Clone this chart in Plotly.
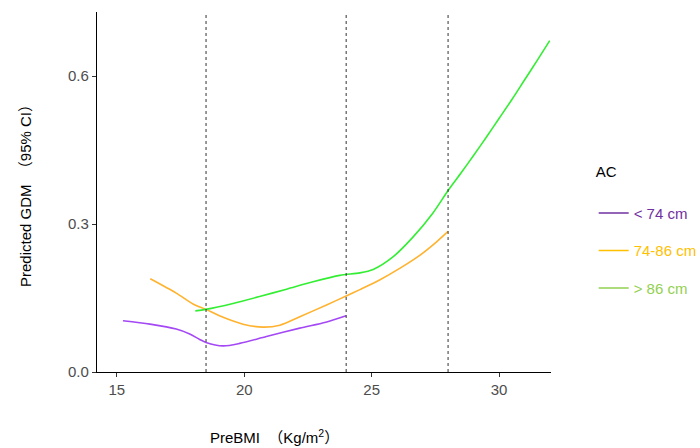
import plotly.graph_objects as go

# ---- data ----
bmi_lt74 = [15.24, 16.3, 17.33, 17.86, 18.25, 18.5, 19.17, 19.82, 20.87, 22.18, 23.2, 24.0]
gdm_lt74 = [0.104, 0.097, 0.087, 0.077, 0.066, 0.060, 0.053, 0.058, 0.072, 0.089, 0.101, 0.114]

bmi_74_86 = [16.31, 17.33, 17.99, 18.49, 19.17, 19.95, 20.74, 21.4, 22.18, 23.23, 24.0, 24.54,
             25.33, 26.1, 26.9, 27.55, 28.0]
gdm_74_86 = [0.189, 0.160, 0.138, 0.127, 0.111, 0.097, 0.091, 0.095, 0.112, 0.136, 0.154, 0.167,
             0.187, 0.210, 0.237, 0.264, 0.285]

bmi_gt86 = [18.08, 18.49, 19.56, 20.6, 21.66, 22.7, 23.75, 24.54, 25.06, 25.85, 26.63, 27.4,
            28.0, 28.5, 29.0, 29.5, 30.0, 30.5, 31.0, 31.5, 31.99]
gdm_gt86 = [0.124, 0.127, 0.139, 0.153, 0.168, 0.183, 0.196, 0.201, 0.208, 0.234, 0.274, 0.322,
            0.368, 0.403, 0.439, 0.476, 0.514, 0.552, 0.592, 0.632, 0.672]

cutoffs = [18.5, 24, 28]
x_ticks = [15, 20, 25, 30]
y_ticks = [0.0, 0.3, 0.6]
y_tick_labels = ["0.0", "0.3", "0.6"]

series = [
    ("< 74 cm", bmi_lt74, gdm_lt74, "#A448F5", "#7030A0"),
    ("74-86 cm", bmi_74_86, gdm_74_86, "#FFB22E", "#FFC000"),
    ("> 86 cm", bmi_gt86, gdm_gt86, "#33EE33", "#92D050"),
]

FONT = "Liberation Sans, Arial, Noto Sans CJK SC, sans-serif"
NB = "\u00a0"

fig = go.Figure()
for name, xs, ys, lc, legc in series:
    fig.add_trace(go.Scatter(x=xs, y=ys, mode="lines", showlegend=False,
                             line=dict(color=lc, width=1.6, shape="spline", smoothing=0.8)))
for i, (name, xs, ys, lc, legc) in enumerate(series):
    label = name.replace("<", "&lt;").replace(">", "&gt;")
    fig.add_trace(go.Scatter(x=[None], y=[None], mode="lines",
                             name=f"<span style='color:{legc}'>{label}</span>",
                             legendgroup=f"g{i}",
                             line=dict(color=legc, width=1.4)))

for c in cutoffs:
    fig.add_shape(type="line", xref="x", yref="paper", x0=c, x1=c, y0=0, y1=1,
                  line=dict(color="#333333", width=1, dash="3px,3px"))

fig.add_annotation(
    text=f"PreBMI{NB}{NB}（Kg/m<sup>2</sup>）", xref="paper", yref="paper",
    x=0.245, y=-0.18, xanchor="left", yanchor="middle", showarrow=False,
    font=dict(size=15, color="black"),
)

fig.update_layout(
    width=700, height=448,
    margin=dict(l=97, r=149, t=12, b=76, autoexpand=False),
    paper_bgcolor="white", plot_bgcolor="white",
    font=dict(family=FONT, size=15, color="black"),
    legend=dict(
        title=dict(text="AC<br> ", font=dict(size=15, color="black")),
        x=1.094, y=0.595, xanchor="left", yanchor="top",
        tracegroupgap=15, itemwidth=30,
        font=dict(size=15),
    ),
    xaxis=dict(
        range=[14.22, 32.04], tickvals=x_ticks, showgrid=False, zeroline=False,
        showline=True, linecolor="black", linewidth=1.2,
        ticks="outside", ticklen=4, tickcolor="#333333",
        tickfont=dict(size=15, color="#4D4D4D"),
    ),
    yaxis=dict(
        range=[0, 0.73], tickvals=y_ticks, ticktext=y_tick_labels,
        showgrid=False, zeroline=False,
        showline=True, linecolor="black", linewidth=1.2,
        ticks="outside", ticklen=4, tickcolor="#333333",
        tickfont=dict(size=15, color="#4D4D4D"),
        title=dict(text=f"Predicted GDM{NB}{NB}（95% CI）", font=dict(size=15, color="black"), standoff=32),
    ),
)

fig.write_html("out.html", config={"displayModeBar": False},
               post_script="document.body.style.margin='0';")
